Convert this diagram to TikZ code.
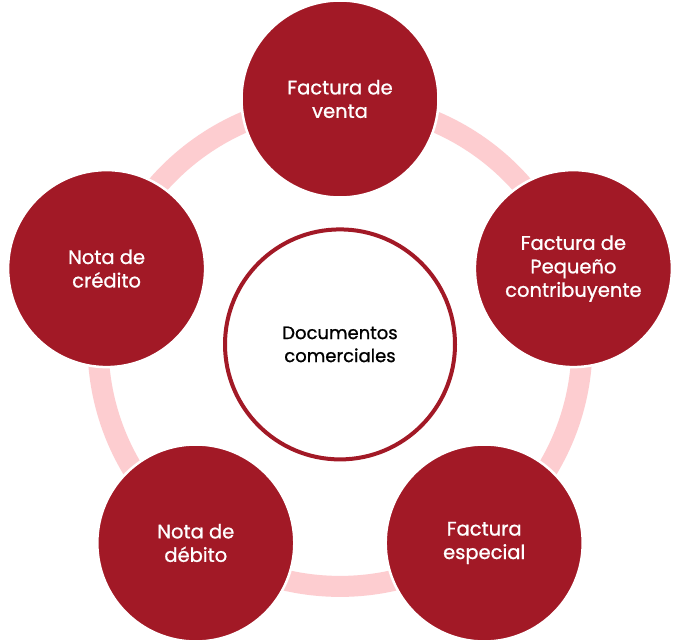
\documentclass[tikz,border=0pt]{standalone}
\usepackage{fontspec}
\setmainfont{Poppins}
\newfontfamily\labelfont{Poppins}[FakeBold=1.0]
\definecolor{darkred}{HTML}{A21926}
\definecolor{ringpink}{HTML}{FDCDD0}
\tikzset{
  outer/.style={circle, fill=darkred, draw=white, line width=2.5pt, minimum size=197pt, inner sep=0pt,
    text=white, align=center, font=\labelfont\fontsize{19.5}{23.5}\selectfont},
  hub/.style={circle, fill=white, draw=darkred, line width=4pt, minimum size=230pt, inner sep=0pt,
    text=black, align=center, font=\labelfont\fontsize{18}{23}\selectfont},
  ring/.style={draw=ringpink, line width=21pt}
}
\begin{document}
\begin{tikzpicture}[x=1pt,y=-1pt]
\useasboundingbox[fill=white] (0,0) rectangle (678,642);
\coordinate (c) at (340,344.4);
\draw[ring] (c) circle[radius=242];
\node[hub] (hub) at (c) {Documentos\\comerciales};
\node[outer] (n1) at (340,99) {Factura de\\venta};
\node[outer] (n2) at (573.4,268.6) {Factura de\\Pequeño\\contribuyente};
\node[outer] (n3) at (484.2,543) {Factura\\especial};
\node[outer] (n4) at (195.8,543) {Nota de\\débito};
\node[outer] (n5) at (106.6,268.6) {Nota de\\crédito};
\end{tikzpicture}
\end{document}
